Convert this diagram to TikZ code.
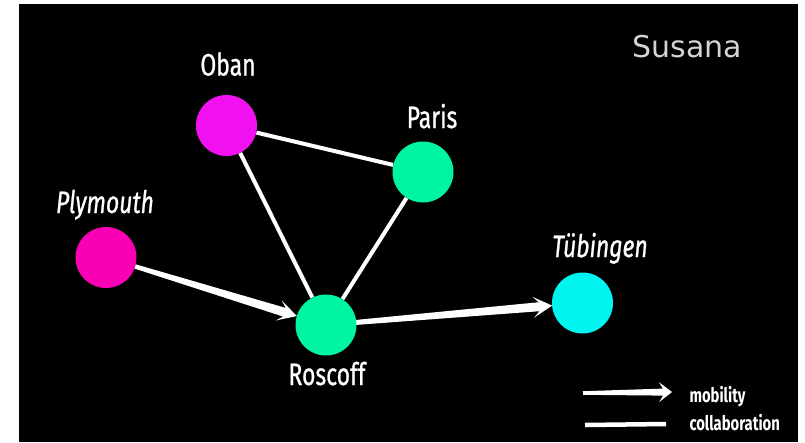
\documentclass[tikz,border=0pt]{standalone}
\usepackage{fontspec}
\setmainfont{Fira Sans}
\newfontfamily\labfont[FakeStretch=0.74,FakeBold=0.8]{Fira Sans}
\newfontfamily\legfont[FakeStretch=0.74]{Fira Sans}
\newfontfamily\susfont{DejaVu Sans}
\usetikzlibrary{calc}
\definecolor{obanc}{HTML}{F010F0}
\definecolor{plyc}{HTML}{FA00B4}
\definecolor{greenc}{HTML}{00F5A0}
\definecolor{cyanc}{HTML}{00F5F0}
\definecolor{susc}{HTML}{D4D4D4}
\newcommand\mobarrow[9]{% from, to, tail offset, head offset, tail half-width, shaft half-width at head, barb half-width, notch depth, barb depth
  \coordinate (mT) at ($(#1)!#3!(#2)$);
  \coordinate (mH) at ($(#2)!#4!(#1)$);
  \coordinate (mB) at ($(mH)!#8!(mT)$);
  \coordinate (mC) at ($(mH)!#9!(mT)$);
  \fill[white] ($(mT)!#5!90:(mH)$) -- ($(mB)!#6!90:(mH)$) -- ($(mC)!#7!90:(mH)$) -- (mH)
    -- ($(mC)!#7!-90:(mH)$) -- ($(mB)!#6!-90:(mH)$) -- ($(mT)!#5!-90:(mH)$) -- cycle;
}
\begin{document}
\begin{tikzpicture}[x=1pt,y=-1pt,
  city/.style={circle,minimum size=61pt,inner sep=0pt},
  lab/.style={text=white,anchor=base,font=\labfont\fontsize{31}{31}\selectfont},
  ilab/.style={lab,font=\labfont\itshape\fontsize{31}{31}\selectfont},
  leg/.style={text=white,anchor=base west,font=\legfont\bfseries\fontsize{20}{20}\selectfont},
  collab/.style={draw=white,line width=4pt}]
\useasboundingbox (0,0) rectangle (805,442);
\fill[white] (0,0) rectangle (805,442);
\fill[black] (19,4) rectangle (798,442);

\node[city] (oban) at (226.5,125.5) {};
\node[city] (paris) at (423,172) {};
\node[city] (ply) at (106,257.5) {};
\node[city] (ros) at (326,325) {};
\node[city] (tub) at (582.5,303) {};

\draw[collab] (oban) -- (paris);
\draw[collab] (oban) -- (ros);
\draw[collab] (paris) -- (ros);
\mobarrow{ply}{ros}{30pt}{30.5pt}{2.2pt}{4.5pt}{10.5pt}{13pt}{19pt}
\mobarrow{ros}{tub}{30pt}{30.5pt}{2.5pt}{4.5pt}{10.5pt}{13pt}{19pt}

\fill[obanc] (oban.center) circle (30.5);
\fill[greenc] (paris.center) circle (30.5);
\fill[plyc] (ply.center) circle (30.5);
\fill[greenc] (ros.center) circle (30.5);
\fill[cyanc] (tub.center) circle (30.5);

\node[lab] (lo) at (228,75.5) {Oban};
\node[lab] (lp) at (432,128) {Paris};
\node[ilab] (lpl) at (105,213) {Plymouth};
\node[ilab] (lt) at (600,257) {Tübingen};
\node[lab] (lr) at (327,385) {Roscoff};
\node[text=susc,anchor=base,font=\susfont\fontsize{30}{30}\selectfont] (sus) at (687.5,57) {Susana};

\coordinate (lm1) at (583,393);
\coordinate (lm2) at (672,392);
\mobarrow{lm1}{lm2}{0pt}{0pt}{1.8pt}{3.5pt}{10pt}{9pt}{13pt}
\coordinate (lc1) at (585,425);
\coordinate (lc2) at (666,424);
\draw[collab,line width=4.5pt] (lc1) -- (lc2);
\node[leg] (lgm) at (686,402) {mobility};
\node[leg] (lgc) at (686,430) {collaboration};
\end{tikzpicture}
\end{document}
